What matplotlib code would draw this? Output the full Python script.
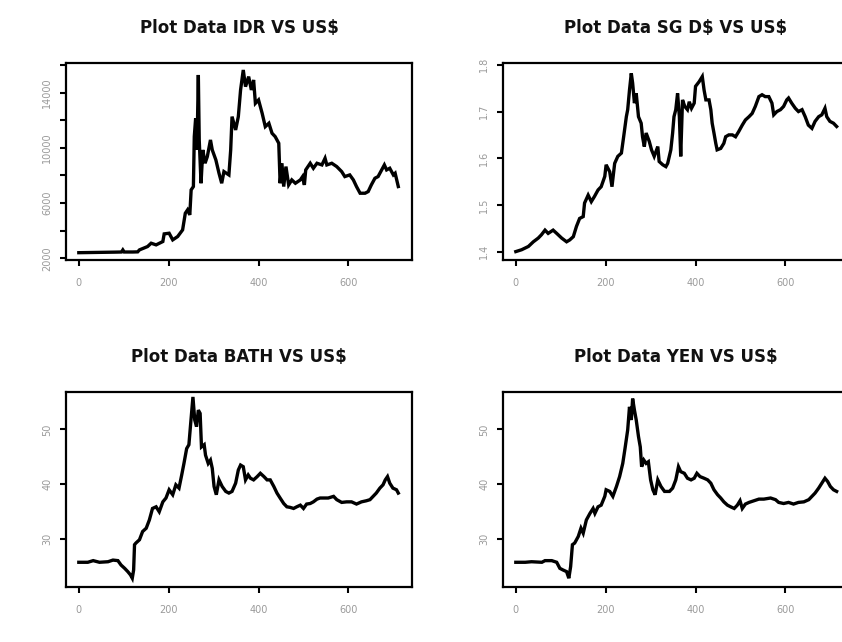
import matplotlib
matplotlib.use("Agg")
import matplotlib.pyplot as plt
from matplotlib.ticker import FixedLocator, FixedFormatter

# ---------------- data (index, value) ----------------
idr_x = [0, 20, 40, 60, 80, 95, 98, 101, 120, 131, 135, 153, 161, 172, 187, 190, 201, 209, 220, 231,
         237, 242, 247, 250, 255, 257, 260, 263, 266, 268, 272, 276, 281, 286, 293, 297, 305, 312, 318, 323,
         334, 338, 341, 349, 355, 360, 366, 371, 378, 384, 389, 393, 400, 408, 415, 423, 430, 437, 445, 448,
         452, 456, 461, 467, 474, 482, 493, 498, 502, 505, 515, 522, 530, 541, 548, 552, 563, 574, 585, 592,
         603, 611, 618, 626, 637, 644, 651, 659, 666, 674, 680, 685, 692, 700, 704, 711]
idr_y = [2400, 2410, 2420, 2430, 2440, 2450, 2600, 2450, 2450, 2460, 2604, 2845, 3087, 2966, 3208, 3763, 3811, 3329, 3570, 4053,
         5260, 5502, 5140, 6951, 7193, 10815, 12143, 9849, 15283, 10574, 7434, 9849, 8883, 9366, 10574, 9849, 9125, 8159, 7434, 8279,
         8038, 9849, 12264, 11298, 12264, 14196, 15645, 14437, 15162, 14196, 14920, 13230, 13472, 12506, 11539, 11781, 11057, 10815, 10332, 7434,
         8883, 7193, 8641, 7313, 7676, 7434, 7676, 7917, 7313, 8400, 8883, 8521, 8883, 8762, 9245, 8762, 8883, 8641, 8279, 7917,
         8038, 7676, 7193, 6710, 6710, 6830, 7313, 7796, 7917, 8400, 8762, 8400, 8521, 8038, 8159, 7193]

sgd_x = [0, 13, 28, 39, 50, 57, 65, 72, 83, 91, 102, 113, 120, 128, 135, 142, 150, 153, 161, 168,
         175, 183, 190, 198, 201, 209, 214, 220, 227, 235, 240, 246, 249, 253, 257, 260, 264, 268, 273, 279,
         282, 286, 290, 297, 302, 308, 316, 319, 327, 334, 338, 345, 349, 352, 356, 360, 364, 367, 371, 376,
         382, 386, 391, 397, 400, 408, 415, 419, 423, 430, 434, 437, 441, 445, 448, 456, 463, 467, 474, 482,
         489, 496, 504, 511, 519, 526, 533, 541, 548, 555, 563, 570, 574, 581, 589, 596, 603, 607, 614, 622,
         629, 637, 644, 651, 659, 666, 674, 681, 688, 692, 699, 707, 714]
sgd_y = [1.400, 1.404, 1.411, 1.421, 1.429, 1.436, 1.446, 1.439, 1.446, 1.439, 1.429, 1.421, 1.425, 1.432, 1.454, 1.471, 1.475, 1.504, 1.521, 1.507,
         1.518, 1.532, 1.539, 1.561, 1.586, 1.571, 1.539, 1.589, 1.604, 1.611, 1.646, 1.689, 1.704, 1.746, 1.782, 1.761, 1.718, 1.739, 1.689, 1.675,
         1.646, 1.625, 1.654, 1.636, 1.618, 1.604, 1.625, 1.593, 1.586, 1.582, 1.589, 1.618, 1.654, 1.689, 1.704, 1.739, 1.689, 1.604, 1.725, 1.711,
         1.704, 1.721, 1.707, 1.718, 1.754, 1.764, 1.775, 1.746, 1.725, 1.725, 1.704, 1.675, 1.654, 1.632, 1.618, 1.621, 1.632, 1.646, 1.650, 1.650,
         1.646, 1.657, 1.671, 1.682, 1.689, 1.696, 1.711, 1.732, 1.736, 1.732, 1.732, 1.718, 1.693, 1.700, 1.704, 1.711, 1.725, 1.729, 1.718, 1.707,
         1.700, 1.704, 1.689, 1.671, 1.664, 1.679, 1.689, 1.693, 1.707, 1.689, 1.679, 1.675, 1.668]

bath_x = [0, 20, 32, 46, 65, 76, 87, 94, 102, 109, 115, 119, 122, 124, 127, 135, 142, 150, 157, 164,
          172, 179, 187, 194, 201, 209, 216, 223, 229, 234, 240, 245, 249, 254, 258, 262, 266, 270, 273, 279,
          282, 288, 293, 297, 301, 306, 312, 319, 327, 334, 341, 349, 355, 360, 366, 371, 377, 382, 389, 397,
          404, 412, 419, 426, 434, 441, 448, 456, 463, 470, 478, 485, 493, 500, 507, 515, 522, 530, 537, 544,
          555, 567, 574, 585, 596, 607, 618, 629, 640, 648, 655, 662, 670, 677, 682, 687, 692, 699, 707, 711]
bath_y = [25.8, 25.8, 26.1, 25.8, 25.9, 26.2, 26.1, 25.3, 24.7, 24.1, 23.5, 22.9, 24.4, 29.0, 29.3, 29.9, 31.4, 32.0, 33.5, 35.6,
          35.9, 35.0, 36.8, 37.5, 39.0, 38.1, 39.9, 39.3, 41.7, 43.8, 46.5, 47.2, 51.1, 55.9, 51.7, 50.5, 53.5, 52.9, 46.8, 47.2,
          45.3, 43.8, 44.4, 42.9, 39.6, 38.1, 40.8, 39.6, 38.7, 38.4, 38.7, 40.2, 42.6, 43.5, 43.2, 40.8, 41.7, 41.1, 40.8, 41.4,
          42.0, 41.4, 40.8, 40.8, 39.6, 38.4, 37.5, 36.5, 35.9, 35.8, 35.6, 35.9, 36.2, 35.6, 36.4, 36.5, 36.8, 37.3, 37.5, 37.5,
          37.5, 37.8, 37.2, 36.7, 36.8, 36.8, 36.4, 36.8, 37.0, 37.2, 37.8, 38.4, 39.3, 39.9, 40.8, 41.4, 40.2, 39.3, 39.0, 38.4]

yen_x = [0, 21, 35, 58, 65, 80, 91, 98, 105, 113, 118, 122, 126, 131, 139, 145, 150, 157, 165, 172,
         176, 183, 190, 198, 201, 209, 216, 224, 231, 238, 243, 249, 253, 257, 260, 264, 268, 273, 277, 280,
         285, 290, 295, 300, 305, 310, 316, 323, 331, 342, 349, 356, 362, 367, 375, 382, 390, 397, 403, 410,
         419, 427, 434, 441, 449, 456, 463, 471, 478, 486, 493, 499, 504, 511, 519, 530, 541, 552, 567, 578,
         585, 596, 607, 618, 629, 641, 652, 659, 666, 674, 681, 688, 694, 700, 707, 714]
yen_y = [25.8, 25.8, 25.9, 25.8, 26.1, 26.1, 25.8, 24.7, 24.4, 24.1, 22.9, 25.0, 29.0, 29.3, 30.5, 32.0, 31.1, 33.5, 34.7, 35.6,
         34.7, 35.9, 36.2, 37.8, 39.0, 38.7, 37.8, 39.6, 41.4, 43.8, 46.5, 49.9, 54.1, 51.7, 55.6, 53.5, 51.7, 48.7, 46.8, 43.2,
         44.4, 43.8, 44.1, 40.8, 39.0, 38.1, 40.8, 39.6, 38.7, 38.7, 39.3, 40.8, 43.2, 42.3, 42.0, 41.1, 40.8, 41.1, 42.0, 41.4,
         41.1, 40.8, 40.2, 39.0, 38.1, 37.5, 36.8, 36.2, 35.9, 35.6, 36.2, 37.0, 35.6, 36.4, 36.7, 37.0, 37.3, 37.3, 37.5, 37.2,
         36.7, 36.5, 36.7, 36.4, 36.7, 36.8, 37.2, 37.8, 38.4, 39.3, 40.2, 41.1, 40.5, 39.6, 39.0, 38.7]

titles = ["Plot Data IDR VS US$", "Plot Data SG D$ VS US$", "Plot Data BATH VS US$", "Plot Data YEN VS US$"]
x_ticks = [0, 200, 400, 600]
x_ticklabels = ["0", "200", "400", "600"]

idr_ticks = [2000, 4000, 6000, 8000, 10000, 12000, 14000, 16000]
idr_ticklabels = ["2000", "", "6000", "", "10000", "", "14000", ""]
sgd_ticks = [1.4, 1.5, 1.6, 1.7, 1.8]
sgd_ticklabels = ["1.4", "1.5", "1.6", "1.7", "1.8"]
bath_ticks = [30, 40, 50]
bath_ticklabels = ["30", "40", "50"]
yen_ticks = [30, 40, 50]
yen_ticklabels = ["30", "40", "50"]

# ---------------- figure ----------------
W, H = 842, 642
fig = plt.figure(figsize=(W / 100, H / 100), dpi=100)
fig.patch.set_facecolor("white")

def px_axes(left, top, right, bottom):
    return fig.add_axes([left / W, 1 - bottom / H, (right - left) / W, (bottom - top) / H])

panels = [
    (px_axes(66, 63, 412, 260), idr_x, idr_y, idr_ticks, idr_ticklabels, (1870, 16150), 28),
    (px_axes(503, 63, 849, 260), sgd_x, sgd_y, sgd_ticks, sgd_ticklabels, (1.382, 1.804), 28),
    (px_axes(66, 392, 412, 587), bath_x, bath_y, bath_ticks, bath_ticklabels, (21.3, 56.8), 357),
    (px_axes(503, 392, 849, 587), yen_x, yen_y, yen_ticks, yen_ticklabels, (21.3, 56.8), 357),
]

for (ax, xs, ys, yt, ytl, ylim, ty), title in zip(panels, titles):
    ax.plot(xs, ys, color="black", lw=2.4, solid_joinstyle="miter")
    ax.set_xlim(-28.5, 741.5)
    ax.set_ylim(*ylim)
    ax.xaxis.set_major_locator(FixedLocator(x_ticks))
    ax.xaxis.set_major_formatter(FixedFormatter(x_ticklabels))
    ax.yaxis.set_major_locator(FixedLocator(yt))
    ax.yaxis.set_major_formatter(FixedFormatter(ytl))
    ax.tick_params(direction="out", length=4, width=1.5, colors="black",
                   labelcolor="#9a9a9a", labelsize=7, pad=9)
    for lbl in ax.get_yticklabels():
        lbl.set_rotation(90)
        lbl.set_va("center")
    ax.tick_params(axis="y", pad=6)
    for s in ax.spines.values():
        s.set_linewidth(1.6)
        s.set_color("black")
    pos = ax.get_position()
    fig.text(pos.x0 + pos.width / 2, 1 - ty / H, title, ha="center", va="center",
             fontsize=12, fontweight="semibold", color="#111111", family="DejaVu Sans",
             parse_math=False)

fig.savefig("out.png", dpi=100, facecolor="white")
